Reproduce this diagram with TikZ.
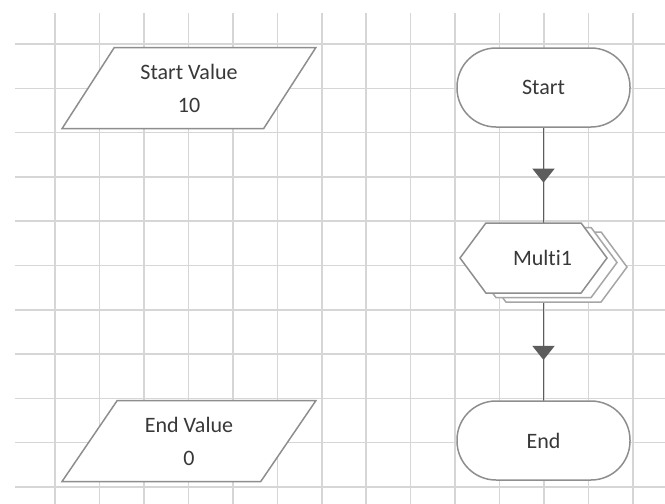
\documentclass[tikz,border=0pt]{standalone}
\usepackage{fontspec}
\setmainfont{Carlito}[Ligatures=NoCommon]
\usepackage{xcolor}
\usetikzlibrary{arrows.meta,calc,positioning,shapes.geometric,shapes.symbols,shadows,backgrounds,decorations.markings}
\definecolor{gridgray}{HTML}{D6D6D6}
\definecolor{edgegray}{HTML}{8E8E8E}
\definecolor{inkgray}{HTML}{383838}
\definecolor{flowgray}{HTML}{5C5C5C}

\begin{document}
\begin{tikzpicture}[x=1pt,y=-1pt,
  box/.style={draw=edgegray,line width=1.5pt,fill=white,text=inkgray,inner sep=0pt,outer sep=0pt,font=\fontsize{22}{33}\selectfont,align=center},
  iobox/.style={box,trapezium,trapezium left angle=55,trapezium right angle=125,trapezium stretches=true,minimum width=254pt,minimum height=81pt},
  termbox/.style={box,rectangle,rounded corners=39pt,minimum width=173pt,minimum height=79pt},
  multibox/.style={box,signal,signal to=west and east,signal pointer angle=107,minimum width=147pt,minimum height=70pt,
    copy shadow={shadow xshift=20pt,shadow yshift=-9pt,draw=black!35,fill=white,line width=1.5pt,opacity=1},
    copy shadow={shadow xshift=10pt,shadow yshift=-4.5pt,draw=black!35,fill=white,line width=1.5pt,opacity=1}},
  flow/.style={draw=flowgray,line width=1.5pt,postaction={decorate},
    decoration={markings,mark=at position #1 with {\arrow[flowgray]{Triangle[width=22pt,length=14pt]}}}}]
\useasboundingbox (0,0) rectangle (665,504);
% grid
\begin{scope}[on background layer]
\foreach \i in {0,...,13}{\draw[gridgray,line width=1.5pt] (55+44.46*\i,13) -- (55+44.46*\i,504);}
\foreach \j in {0,...,10}{\draw[gridgray,line width=1.5pt] (15,44+44.3*\j) -- (665,44+44.3*\j);}
\end{scope}
% shapes
\node[iobox] (startval) at (189,88) {Start Value\\10};
\node[iobox] (endval) at (189,441) {End Value\\0};
\node[termbox] (start) at (543.5,87.5) {Start};
\node[multibox] (multi) at (533.5,258) {\hspace*{18pt}Multi1};
\node[termbox] (finish) at (543.5,440.5) {End};
% flow
\begin{scope}[on background layer]
\draw[flow=0.58] (start.south) -- (start.south |- multi.north);
\draw[flow=0.62] (start.south |- multi.south) -- (finish.north);
\end{scope}
\end{tikzpicture}
\end{document}
